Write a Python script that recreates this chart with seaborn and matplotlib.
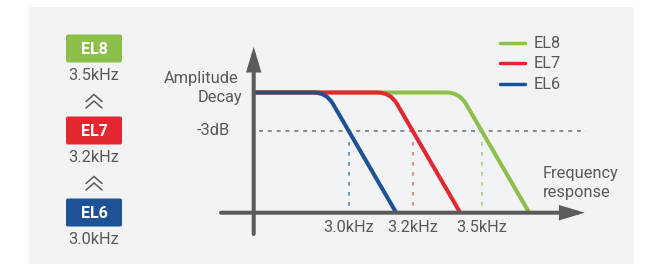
import matplotlib
matplotlib.use("Agg")
import matplotlib.pyplot as plt
import seaborn as sns
from matplotlib.path import Path
from matplotlib.patches import PathPatch, FancyBboxPatch, Rectangle

# chart data (schematic units: x = distance from the amplitude axis)
models = ["EL8", "EL7", "EL6"]
cutoff_labels = ["3.5kHz", "3.2kHz", "3.0kHz"]
cutoff_pos = [228, 159, 95]      # where each curve crosses -3dB
flat_level = 1.0
db3_level = 0.68
rolloff = 47.5                   # run from -3dB point down to zero
colors = ["#8cc04a", "#e0282e", "#1d5395"]
dot_colors = ["#a9d17c", "#ee7477", "#5d86c2"]

sns.set_theme(style="white")
plt.rcParams["font.family"] = ["Roboto", "DejaVu Sans"]
text_gray = "#595959"
axis_gray = "#5b5b5b"
fs = 11.8

fig = plt.figure(figsize=(6.48, 2.64), dpi=100)
fig.patch.set_facecolor("white")

# side panel, pixel coordinates
side = fig.add_axes([0, 0, 1, 1])
side.set_xlim(0, 648)
side.set_ylim(264, 0)
side.axis("off")
side.add_patch(Rectangle((29, 7), 605, 260, color="#f2f3f5", lw=0))

box_y = [48.5, 130.5, 212.5]
for i, m in enumerate(models):
    side.add_patch(FancyBboxPatch((66 + 2, box_y[i] - 14 + 2), 52, 24,
                                  boxstyle="round,pad=2", color=colors[i], lw=0))
    side.text(94, box_y[i] + 0.5, m, color="white", fontsize=11.5, fontweight="bold",
              ha="center", va="center")
    side.text(93.5, box_y[i] + 27.5, cutoff_labels[i], color=text_gray, fontsize=fs,
              ha="center", va="center")
    if i < len(models) - 1:
        for y0 in [box_y[i] + 46, box_y[i] + 52.5]:
            side.plot([86, 94, 102], [y0 + 7, y0, y0 + 7], color=text_gray, lw=1.1,
                      solid_capstyle="round", solid_joinstyle="miter")

# main chart
ax = fig.add_axes([0, 0, 1, 1])
ax.patch.set_alpha(0)
ax.set_xlim(-253.7, 394.3)
ax.set_ylim(-0.4268, 1.7696)
ax.axis("off")

# -3dB guide
ax.plot([5, 332], [db3_level, db3_level], color="#7a7a7a", lw=1.2,
        dashes=(2.4, 2.9), zorder=2)

for i, c in enumerate(cutoff_pos):
    knee = c - (flat_level - db3_level) * rolloff / db3_level
    end = c + rolloff
    t = 0.0935
    verts = [(0, flat_level), (knee - 13, flat_level), (knee, flat_level),
             (knee + t * (end - knee), flat_level - t), (end, 0)]
    codes = [Path.MOVETO, Path.LINETO, Path.CURVE3, Path.CURVE3, Path.LINETO]
    ax.add_patch(PathPatch(Path(verts, codes), fill=False, edgecolor=colors[i],
                           lw=2.9, capstyle="butt", joinstyle="round", zorder=4))
    ax.plot([c, c], [db3_level - 0.09, 0], color=dot_colors[i], lw=1.2,
            dashes=(2.2, 3.8), zorder=3)
    ax.text(c, -0.125, cutoff_labels[i], color=text_gray, fontsize=fs,
            ha="center", va="center")

# axes arrows
arrow = dict(arrowstyle="-|>,head_length=12,head_width=3.6", mutation_scale=1,
             color=axis_gray, lw=2.9, shrinkA=0, shrinkB=0, joinstyle="miter")
ax.annotate("", xy=(0, 1.38), xytext=(0, -0.177), arrowprops=arrow, zorder=5)
ax.annotate("", xy=(331, 0), xytext=(-32.7, 0), arrowprops=arrow, zorder=5)

ax.text(-15, 1.12, "Amplitude", color=text_gray, fontsize=fs, ha="right", va="center")
ax.text(-11, 0.957, "Decay", color=text_gray, fontsize=fs, ha="right", va="center")
ax.text(-23.5, db3_level, "-3dB", color=text_gray, fontsize=fs, ha="right", va="center")
ax.text(289.3, 0.322, "Frequency", color=text_gray, fontsize=fs, ha="left", va="center")
ax.text(289.3, 0.164, "response", color=text_gray, fontsize=fs, ha="left", va="center")

# legend
leg_y = [1.409, 1.243, 1.068]
for i, m in enumerate(models):
    ax.plot([246.5, 271], [leg_y[i], leg_y[i]], color=colors[i], lw=2.5,
            solid_capstyle="round")
    ax.text(280.3, leg_y[i], m, color=text_gray, fontsize=fs, ha="left", va="center")

fig.savefig("out.png", dpi=100)
